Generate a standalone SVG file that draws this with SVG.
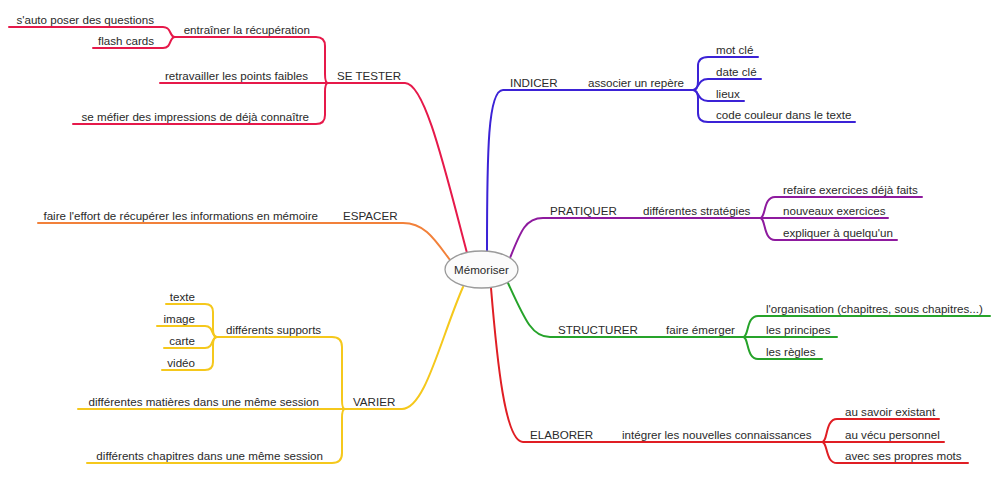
<svg xmlns="http://www.w3.org/2000/svg" width="1001" height="494" viewBox="0 0 1001 494">
<style>
text{font-family:"Liberation Sans",Arial,sans-serif;font-size:11.6px;fill:#2a2a2a}
.l{text-anchor:end}
path{fill:none;stroke-width:2;stroke-linecap:round;stroke-linejoin:round}
.red{stroke:#e6194a}
.red2{stroke:#e01e24}
.blue{stroke:#3b22d6}
.purple{stroke:#8e1a9e}
.green{stroke:#26a32a}
.orange{stroke:#f2813a}
.yellow{stroke:#f5c81c}
</style>
<rect width="1001" height="494" fill="#ffffff"/>
<g id="connectors">
  <!-- SE TESTER -->
  <path class="red" d="M467,253 C445,170 425,83 405,83 L160,83"/>
  <path class="red" d="M328,83 Q325,83 325,74 L325,46 Q325,37 316,37 L175,37"/>
  <path class="red" d="M328,83 Q325,83 325,92 L325,115 Q325,124 316,124 L73,124"/>
  <path class="red" d="M175,37 C169,37 172,27 163,27 L9,27"/>
  <path class="red" d="M175,37 C169,37 172,48 163,48 L93,48"/>
  <!-- ESPACER -->
  <path class="orange" d="M450,260 C435,240 425,223 403,223 L38,223"/>
  <!-- VARIER -->
  <path class="yellow" d="M463,287 C440,340 425,409 402,409 L78,409"/>
  <path class="yellow" d="M345,409 Q342,409 342,400 L342,347 Q342,337 332,337 L217,337"/>
  <path class="yellow" d="M345,409 Q342,409 342,418 L342,453 Q342,463 332,463 L87,463"/>
  <path class="yellow" d="M217,337 Q213,337 213,329 L213,312 Q213,304 205,304 L166,304"/>
  <path class="yellow" d="M217,337 C211,337 214,326 205,326 L157,326"/>
  <path class="yellow" d="M217,337 C211,337 214,348 205,348 L164,348"/>
  <path class="yellow" d="M217,337 Q213,337 213,345 L213,362 Q213,370 205,370 L162,370"/>
  <!-- INDICER -->
  <path class="blue" d="M487,251 C487,150 488,90 503,90 L693,90"/>
  <path class="blue" d="M693,90 Q698,90 698,81 L698,66 Q698,57 708,57 L758,57"/>
  <path class="blue" d="M693,90 C699,90 697,79 708,79 L761,79"/>
  <path class="blue" d="M693,90 C699,90 697,101 708,101 L744,101"/>
  <path class="blue" d="M693,90 Q698,90 698,99 L698,113 Q698,122 708,122 L855,122"/>
  <!-- PRATIQUER -->
  <path class="purple" d="M510,258 C521,230 526,218 543,218 L888,218"/>
  <path class="purple" d="M760,218 C766,218 763,197 775,197 L922,197"/>
  <path class="purple" d="M760,218 C766,218 763,240 775,240 L897,240"/>
  <!-- STRUCTURER -->
  <path class="green" d="M508,283 C525,320 532,337 550,337 L837,337"/>
  <path class="green" d="M743,337 C749,337 746,316 758,316 L990,316"/>
  <path class="green" d="M743,337 C749,337 746,359 758,359 L822,359"/>
  <!-- ELABORER -->
  <path class="red2" d="M491,288 C497,360 505,442 523,442 L944,442"/>
  <path class="red2" d="M822,442 C828,442 825,419 837,419 L939,419"/>
  <path class="red2" d="M822,442 C828,442 825,463 837,463 L968,463"/>
</g>
<g id="center">
  <ellipse cx="481.5" cy="269.5" rx="36.5" ry="18.5" fill="#fbfbfb" stroke="#9a9a9a" stroke-width="1.3"/>
  <text x="481.5" y="274" text-anchor="middle">Mémoriser</text>
</g>
<g id="se-tester">
  <text x="337" y="80">SE TESTER</text>
  <text class="l" x="310" y="34">entraîner la récupération</text>
  <text class="l" x="154" y="24">s'auto poser des questions</text>
  <text class="l" x="154" y="45">flash cards</text>
  <text class="l" x="308" y="80">retravailler les points faibles</text>
  <text class="l" x="309" y="121">se méfier des impressions de déjà connaître</text>
</g>
<g id="espacer">
  <text x="343" y="220">ESPACER</text>
  <text class="l" x="318" y="220">faire l'effort de récupérer les informations en mémoire</text>
</g>
<g id="varier">
  <text x="353" y="406">VARIER</text>
  <text x="226" y="334">différents supports</text>
  <text class="l" x="195" y="301">texte</text>
  <text class="l" x="195" y="323">image</text>
  <text class="l" x="195" y="345">carte</text>
  <text class="l" x="195" y="367">vidéo</text>
  <text class="l" x="319" y="406">différentes matières dans une même session</text>
  <text class="l" x="323" y="460">différents chapitres dans une même session</text>
</g>
<g id="indicer">
  <text x="510" y="87">INDICER</text>
  <text x="588" y="87">associer un repère</text>
  <text x="716" y="54">mot clé</text>
  <text x="716" y="76">date clé</text>
  <text x="716" y="98">lieux</text>
  <text x="716" y="119">code couleur dans le texte</text>
</g>
<g id="pratiquer">
  <text x="550" y="215">PRATIQUER</text>
  <text x="643" y="215">différentes stratégies</text>
  <text x="783" y="194">refaire exercices déjà faits</text>
  <text x="783" y="215">nouveaux exercices</text>
  <text x="783" y="237">expliquer à quelqu'un</text>
</g>
<g id="structurer">
  <text x="558" y="334">STRUCTURER</text>
  <text x="666" y="334">faire émerger</text>
  <text x="766" y="313">l'organisation (chapitres, sous chapitres...)</text>
  <text x="766" y="334">les principes</text>
  <text x="766" y="356">les règles</text>
</g>
<g id="elaborer">
  <text x="530" y="439">ELABORER</text>
  <text x="622" y="439">intégrer les nouvelles connaissances</text>
  <text x="845" y="416">au savoir existant</text>
  <text x="845" y="439">au vécu personnel</text>
  <text x="845" y="460">avec ses propres mots</text>
</g>
</svg>
